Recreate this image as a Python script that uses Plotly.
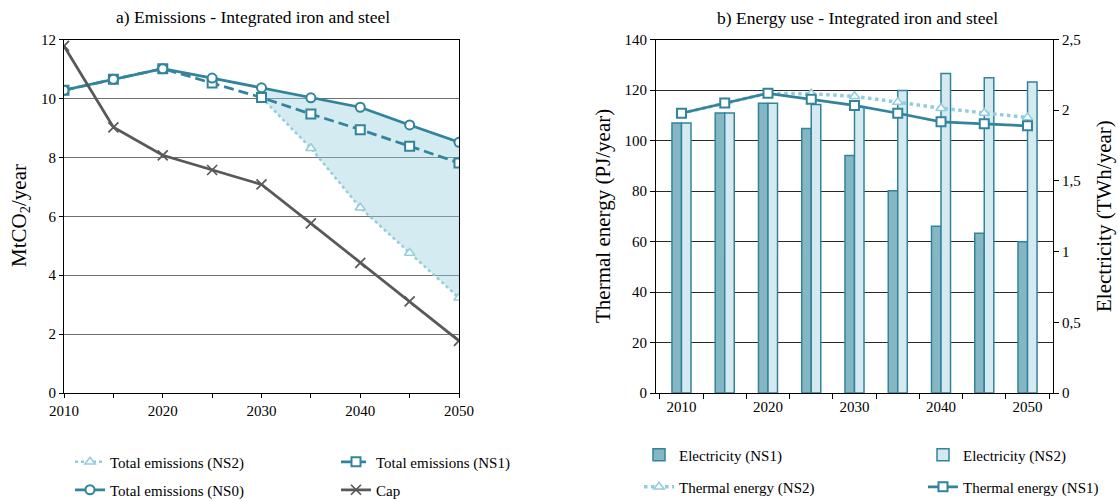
import plotly.graph_objects as go

W, H = 1118, 501

# ---- data -------------------------------------------------------------
years = [2010, 2015, 2020, 2025, 2030, 2035, 2040, 2045, 2050]
year_labels = ["2010", "", "2020", "", "2030", "", "2040", "", "2050"]

# a) emissions, MtCO2/year
emis_ns0 = [10.28, 10.65, 11.01, 10.69, 10.36, 10.02, 9.70, 9.10, 8.51]
emis_ns1 = [10.28, 10.65, 11.01, 10.52, 10.03, 9.47, 8.94, 8.38, 7.81]
emis_ns2_years = [2030, 2035, 2040, 2045, 2050]
emis_ns2 = [10.03, 8.31, 6.29, 4.75, 3.23]
cap = [11.78, 9.02, 8.07, 7.57, 7.08, 5.76, 4.42, 3.11, 1.77]

# b) energy use
elec_ns1 = [1.91, 1.98, 2.05, 1.87, 1.68, 1.43, 1.18, 1.13, 1.07]      # TWh/year
elec_ns2 = [1.91, 1.98, 2.05, 2.04, 2.02, 2.14, 2.26, 2.23, 2.20]      # TWh/year
thermal_ns1 = [110.8, 114.9, 118.7, 116.3, 113.9, 110.8, 107.4, 106.6, 105.8]  # PJ/year
thermal_ns2 = [110.8, 114.9, 118.7, 118.5, 117.5, 115.2, 112.8, 110.9, 109.1]  # PJ/year

elec_ticks = [0, 0.5, 1, 1.5, 2, 2.5]
elec_ticktext = ["0", "0,5", "1", "1,5", "2", "2,5"]

# ---- style ------------------------------------------------------------
FONT = "Liberation Serif"
TEAL = "#31849b"
LIGHT = "#92cddc"
CAPC = "#595959"
DARK_BAR = "#84b6c4"
LIGHT_BAR = "#d5eaf0"


def cx(p):
    return p / W


def cy(p):
    return 1 - p / H


cat_years = [str(y) for y in years]
fig = go.Figure()

# ---- panel a ----------------------------------------------------------
i0 = years.index(emis_ns2_years[0])
band_x = emis_ns2_years + emis_ns2_years[::-1]
band_y = emis_ns0[i0:] + emis_ns2[::-1]
fig.add_trace(go.Scatter(
    x=band_x, y=band_y, fill="toself", fillcolor="rgba(146,205,220,0.4)",
    mode="lines", line=dict(width=0), showlegend=False, hoverinfo="skip",
    xaxis="x", yaxis="y"))

fig.add_trace(go.Scatter(
    x=emis_ns2_years, y=emis_ns2, name="Total emissions (NS2)",
    mode="lines+markers", line=dict(color=LIGHT, width=2.5, dash="dot"),
    marker=dict(symbol="triangle-up", size=9, color="white",
                line=dict(color=LIGHT, width=1.5)),
    xaxis="x", yaxis="y", legend="legend"))

fig.add_trace(go.Scatter(
    x=years, y=emis_ns1, name="Total emissions (NS1)",
    mode="lines+markers", line=dict(color=TEAL, width=2.75, dash="10px,5px"),
    marker=dict(symbol="square", size=9, color="white",
                line=dict(color=TEAL, width=2)),
    xaxis="x", yaxis="y", legend="legend2"))

fig.add_trace(go.Scatter(
    x=years, y=emis_ns0, name="Total emissions (NS0)",
    mode="lines+markers", line=dict(color=TEAL, width=2.75),
    marker=dict(symbol="circle", size=9, color="white",
                line=dict(color=TEAL, width=2)),
    xaxis="x", yaxis="y", legend="legend3"))

fig.add_trace(go.Scatter(
    x=years, y=cap, name="Cap",
    mode="lines+markers", line=dict(color=CAPC, width=2.75),
    marker=dict(symbol="x-thin", size=10, color=CAPC,
                line=dict(color=CAPC, width=1.75)),
    xaxis="x", yaxis="y", legend="legend4"))

# ---- panel b ----------------------------------------------------------
fig.add_trace(go.Bar(
    x=cat_years, y=elec_ns1, name="Electricity (NS1)",
    marker=dict(color=DARK_BAR, line=dict(color=TEAL, width=1.5)),
    xaxis="x2", yaxis="y2", legend="legend5"))

fig.add_trace(go.Bar(
    x=cat_years, y=elec_ns2, name="Electricity (NS2)",
    marker=dict(color=LIGHT_BAR, line=dict(color=TEAL, width=1.5)),
    xaxis="x2", yaxis="y2", legend="legend6"))

fig.add_trace(go.Scatter(
    x=cat_years, y=thermal_ns2, name="Thermal energy (NS2)",
    mode="lines+markers", line=dict(color=LIGHT, width=3.5, dash="dot"),
    marker=dict(symbol="triangle-up", size=9, color="white",
                line=dict(color=LIGHT, width=1.5)),
    xaxis="x2", yaxis="y3", legend="legend7"))

fig.add_trace(go.Scatter(
    x=cat_years, y=thermal_ns1, name="Thermal energy (NS1)",
    mode="lines+markers", line=dict(color=TEAL, width=2.75),
    marker=dict(symbol="square", size=9, color="white",
                line=dict(color=TEAL, width=2)),
    xaxis="x2", yaxis="y3", legend="legend8"))

# ---- axes -------------------------------------------------------------
tickfont = dict(family=FONT, size=15, color="black")
y_dom = [cy(393), cy(39.5)]

fig.update_layout(
    xaxis=dict(domain=[cx(64), cx(459)], range=[2010, 2050], anchor="y",
               tickvals=years, ticktext=year_labels, ticks="outside",
               ticklen=4, tickcolor="black", showline=True, linecolor="black",
               linewidth=1.2, mirror=True, showgrid=False, zeroline=False,
               tickfont=tickfont, automargin=False),
    yaxis=dict(domain=y_dom, range=[0, 12], dtick=2, anchor="x",
               ticks="outside", ticklen=4, tickcolor="black", showline=True,
               linecolor="black", linewidth=1.2, mirror=True, showgrid=True,
               gridcolor="#707070", gridwidth=1.2, zeroline=False,
               tickfont=tickfont, automargin=False),
    xaxis2=dict(domain=[cx(656), cx(1053)], type="category", anchor="y2",
                tickvals=cat_years, ticktext=year_labels, ticks="outside",
                tickson="boundaries", ticklen=5, tickcolor="black",
                showline=True, linecolor="black", linewidth=1.2, mirror=True,
                showgrid=False, zeroline=False, tickfont=tickfont,
                automargin=False),
    yaxis2=dict(domain=y_dom, range=[0, 2.5], anchor="x2", side="right",
                tickvals=elec_ticks, ticktext=elec_ticktext, ticks="outside",
                ticklen=5, tickcolor="black", showline=True,
                linecolor="black", linewidth=1.2, showgrid=False,
                zeroline=False, tickfont=tickfont, automargin=False),
    yaxis3=dict(overlaying="y2", range=[0, 140], dtick=20, anchor="x2",
                side="left", ticks="outside", ticklen=5, tickcolor="black",
                showline=True, linecolor="black", linewidth=1.2,
                showgrid=True, gridcolor="#2a2a2a", gridwidth=1.2,
                zeroline=False, tickfont=tickfont, automargin=False),
    barmode="group", bargap=0.56, bargroupgap=0,
)

# ---- legends: one entry each, laid out in two columns -----------------
legend_pos = {
    "legend": (70, 462), "legend2": (336, 462),
    "legend3": (70, 490), "legend4": (336, 490),
    "legend5": (639, 455), "legend6": (923, 455),
    "legend7": (639, 487), "legend8": (923, 487),
}
for key, (lx, ly) in legend_pos.items():
    fig.update_layout({key: dict(
        x=cx(lx), y=cy(ly), xref="paper", yref="paper",
        xanchor="left", yanchor="middle", bgcolor="rgba(0,0,0,0)",
        borderwidth=0, font=dict(family=FONT, size=15, color="black"),
        tracegroupgap=0)})

# ---- titles -----------------------------------------------------------
title_font = dict(family=FONT, size=17.5, color="black")
axis_title_font = dict(family=FONT, size=21, color="black")
annotations = [
    dict(text="a) Emissions - Integrated iron and steel", x=cx(253), y=cy(17),
         font=title_font),
    dict(text="b) Energy use - Integrated iron and steel", x=cx(857), y=cy(18),
         font=title_font),
    dict(text="MtCO<sub>2</sub>/year", x=cx(20), y=cy(216), textangle=-90,
         font=axis_title_font),
    dict(text="Thermal energy (PJ/year)", x=cx(603), y=cy(216), textangle=-90,
         font=axis_title_font),
    dict(text="Electricity (TWh/year)", x=cx(1104), y=cy(216), textangle=-90,
         font=axis_title_font),
]
for a in annotations:
    a.update(xref="paper", yref="paper", xanchor="center", yanchor="middle",
             showarrow=False)

fig.update_layout(
    annotations=annotations,
    width=W, height=H,
    margin=dict(l=0, r=0, t=0, b=0, autoexpand=False),
    paper_bgcolor="white", plot_bgcolor="white",
    font=dict(family=FONT, size=15, color="black"),
    hovermode=False,
)

fig.write_html("out.html", config={"displayModeBar": False})
